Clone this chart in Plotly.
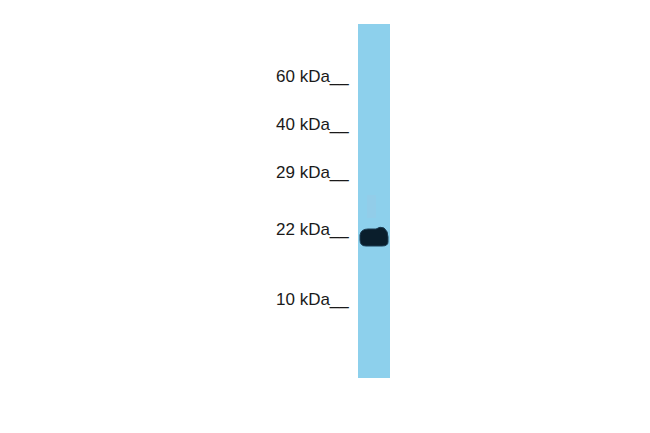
import plotly.graph_objects as go

# Data
marker_kda = [60, 40, 29, 22, 10]
marker_labels = [f"{m} kDa__" for m in marker_kda]
lane_names = ["Sample"]
band_kda = [22]

# Layout positions (pixel space of the image)
marker_y = [76, 124, 172, 229, 299]
band_y = 237
lane_x = 374
lane_top, lane_bottom = 24, 378
lane_w = 32

fig = go.Figure()

# Lane as a bar
fig.add_trace(go.Bar(
    x=[lane_x], y=[lane_bottom - lane_top], base=[lane_top], width=[lane_w],
    marker=dict(color="#8dd0ec", line=dict(width=0)),
    hoverinfo="skip", showlegend=False, name=lane_names[0],
))

# Faint smear above band
fig.add_shape(type="rect", x0=367, x1=376, y0=195, y1=218, xref="x", yref="y",
              fillcolor="rgba(160,200,225,0.3)", line=dict(width=0))

# Band
fig.add_shape(type="path",
    path=(f"M 360,{band_y-2} Q 361,{band_y-8} 368,{band_y-8} L 376,{band_y-8} "
          f"Q 380,{band_y-11} 384,{band_y-9} Q 388,{band_y-6} 388,{band_y} "
          f"L 388,{band_y+5} Q 388,{band_y+9} 382,{band_y+9} L 366,{band_y+9} "
          f"Q 360,{band_y+9} 360,{band_y+3} Z"),
    xref="x", yref="y", fillcolor="#0a1e2c", line=dict(color="#1a3a50", width=1))

# Marker labels
for lab, y in zip(marker_labels, marker_y):
    fig.add_annotation(x=351, y=y, text=lab, xref="x", yref="y",
                       xanchor="right", yanchor="middle", showarrow=False,
                       font=dict(family="Liberation Sans, Arial, sans-serif", size=17, color="#1a1a1a"))

fig.update_layout(
    width=650, height=433,
    margin=dict(l=0, r=0, t=0, b=0),
    paper_bgcolor="white", plot_bgcolor="white",
    xaxis=dict(range=[0, 650], visible=False, fixedrange=True),
    yaxis=dict(range=[433, 0], visible=False, fixedrange=True),
    bargap=0,
)

fig.write_html("out.html", config={"displayModeBar": False},
               post_script="document.body.style.margin='0';")
